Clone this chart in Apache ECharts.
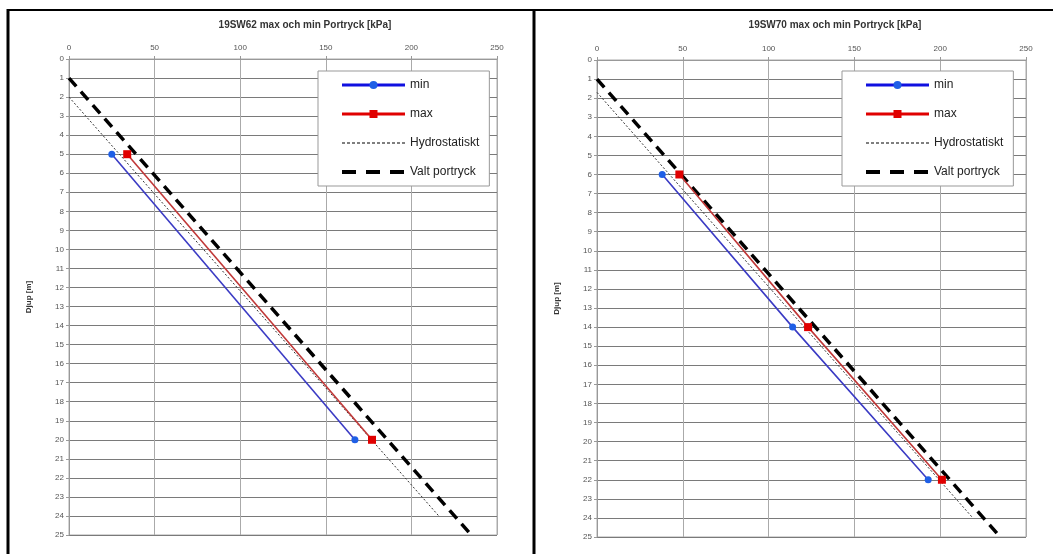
<!DOCTYPE html>
<html>
<head>
<meta charset="utf-8">
<script src="https://cdn.jsdelivr.net/npm/echarts@6/dist/echarts.min.js"></script>
<style>
html,body{margin:0;padding:0;background:#fff;}
#chart{width:1053px;height:554px;}
</style>
</head>
<body>
<div id="chart"></div>
<script>
// ---- data ----
const titles = ['19SW62 max och min Portryck [kPa]', '19SW70 max och min Portryck [kPa]'];
const seriesNames = ['min', 'max', 'Hydrostatiskt', 'Valt portryck'];
const yAxisName = 'Djup [m]';

// left chart (19SW62)
const depthLeft = [5, 20];
const minLeft = [25, 167];
const maxLeft = [34, 177];
const hydroDepthLeft = [2, 24];
const hydroLeft = [0, 216];

// right chart (19SW70)
const depthRight = [6, 14, 22];
const minRight = [38, 114, 193];
const maxRight = [48, 123, 201];
const hydroDepthRight = [1.7, 24];
const hydroRight = [0, 219];

// chosen pore pressure (both charts)
const valtDepth = [1, 25];
const valtPressure = [0, 235];

const xMin = 0, xMax = 250, xStep = 50;
const yMin = 0, yMax = 25, yStep = 1;

// ---- helpers ----
const pairs = (xs, ys) => xs.map((x, i) => [x, ys[i]]);
const FONT = '"Liberation Sans", Arial, sans-serif';

function makeSeries(idx, depth, mins, maxs, hDepth, hPress) {
  return [
    {
      name: seriesNames[0], type: 'line', xAxisIndex: idx, yAxisIndex: idx,
      data: pairs(mins, depth), symbol: 'circle', symbolSize: 7,
      lineStyle: { color: '#3b3bc4', width: 1.6 },
      itemStyle: { color: '#1f5fe6' }, z: 4
    },
    {
      name: seriesNames[1], type: 'line', xAxisIndex: idx, yAxisIndex: idx,
      data: pairs(maxs, depth), symbol: 'rect', symbolSize: 8,
      lineStyle: { color: '#c03838', width: 1.6 },
      itemStyle: { color: '#e00000' }, z: 4
    },
    {
      name: seriesNames[2], type: 'line', xAxisIndex: idx, yAxisIndex: idx,
      data: pairs(hPress, hDepth), symbol: 'none',
      lineStyle: { color: '#333', width: 1, type: [2, 2] },
      itemStyle: { color: '#333' }, z: 3
    },
    {
      name: seriesNames[3], type: 'line', xAxisIndex: idx, yAxisIndex: idx,
      data: pairs(valtPressure, valtDepth), symbol: 'none',
      lineStyle: { color: '#000', width: 3.5, type: [11, 7] },
      itemStyle: { color: '#000' }, z: 3
    }
  ];
}

function xAxis(idx) {
  return {
    gridIndex: idx, type: 'value', position: 'top',
    min: xMin, max: xMax, interval: xStep,
    axisLine: { show: true, lineStyle: { color: '#999', width: 1 } },
    axisTick: { show: true, length: 3, lineStyle: { color: '#999' } },
    axisLabel: { fontFamily: FONT, fontSize: 8, color: '#555', margin: 7 },
    splitLine: { show: true, lineStyle: { color: '#aaa', width: 1 } }
  };
}
function yAxis(idx) {
  return {
    gridIndex: idx, type: 'value', inverse: true,
    min: yMin, max: yMax, interval: yStep,
    name: yAxisName, nameLocation: 'middle', nameRotate: 90, nameGap: 36,
    nameTextStyle: { fontFamily: FONT, fontSize: 8, fontWeight: 'bold', color: '#333' },
    axisLine: { show: true, lineStyle: { color: '#999', width: 1 } },
    axisTick: { show: true, length: 3, lineStyle: { color: '#999' } },
    axisLabel: { fontFamily: FONT, fontSize: 8, color: '#555', margin: 5 },
    splitLine: { show: true, lineStyle: { color: '#7a7a7a', width: 1 } }
  };
}
const noSymbol = { color: 'rgba(0,0,0,0)', borderColor: 'rgba(0,0,0,0)', borderWidth: 0, opacity: 0 };
function legend(left) {
  return {
    orient: 'vertical', left: left, top: 71,
    padding: [8, 10, 8, 22], itemGap: 17, itemWidth: 63, itemHeight: 10,
    backgroundColor: '#fff', borderColor: '#999', borderWidth: 1,
    textStyle: { fontFamily: FONT, fontSize: 12, color: '#222' },
    selectedMode: false,
    data: [
      { name: seriesNames[0], lineStyle: { width: 3, color: '#1010e0' }, itemStyle: { color: '#1f5fe6' } },
      { name: seriesNames[1], lineStyle: { width: 3, color: '#e00000' }, itemStyle: { color: '#e00000' } },
      { name: seriesNames[2], lineStyle: { width: 1.2, color: '#000', type: [3, 2] }, itemStyle: noSymbol },
      { name: seriesNames[3], lineStyle: { width: 4, color: '#000', type: [14, 10] }, itemStyle: noSymbol }
    ]
  };
}

const chart = echarts.init(document.getElementById('chart'));
chart.setOption({
  backgroundColor: '#fff',
  animation: false,
  title: [
    { text: titles[0], left: 300, top: 15, textAlign: 'center',
      textStyle: { fontFamily: FONT, fontSize: 10, fontWeight: 'bold', color: '#333' } },
    { text: titles[1], left: 830, top: 15, textAlign: 'center',
      textStyle: { fontFamily: FONT, fontSize: 10, fontWeight: 'bold', color: '#333' } }
  ],
  grid: [
    { left: 69, top: 59, width: 428, height: 476, show: true, borderColor: '#aaa', borderWidth: 1, backgroundColor: 'transparent' },
    { left: 597, top: 60, width: 429, height: 477, show: true, borderColor: '#aaa', borderWidth: 1, backgroundColor: 'transparent' }
  ],
  xAxis: [xAxis(0), xAxis(1)],
  yAxis: [yAxis(0), yAxis(1)],
  legend: [legend(318), legend(842)],
  series: [].concat(
    makeSeries(0, depthLeft, minLeft, maxLeft, hydroDepthLeft, hydroLeft),
    makeSeries(1, depthRight, minRight, maxRight, hydroDepthRight, hydroRight)
  ),
  graphic: [
    { type: 'line', silent: true, shape: { x1: 8, y1: 10, x2: 1053, y2: 10 }, style: { stroke: '#000', lineWidth: 2 } },
    { type: 'line', silent: true, shape: { x1: 8, y1: 9, x2: 8, y2: 554 }, style: { stroke: '#000', lineWidth: 3 } },
    { type: 'line', silent: true, shape: { x1: 534, y1: 9, x2: 534, y2: 554 }, style: { stroke: '#000', lineWidth: 3 } }
  ]
});
</script>
</body>
</html>
